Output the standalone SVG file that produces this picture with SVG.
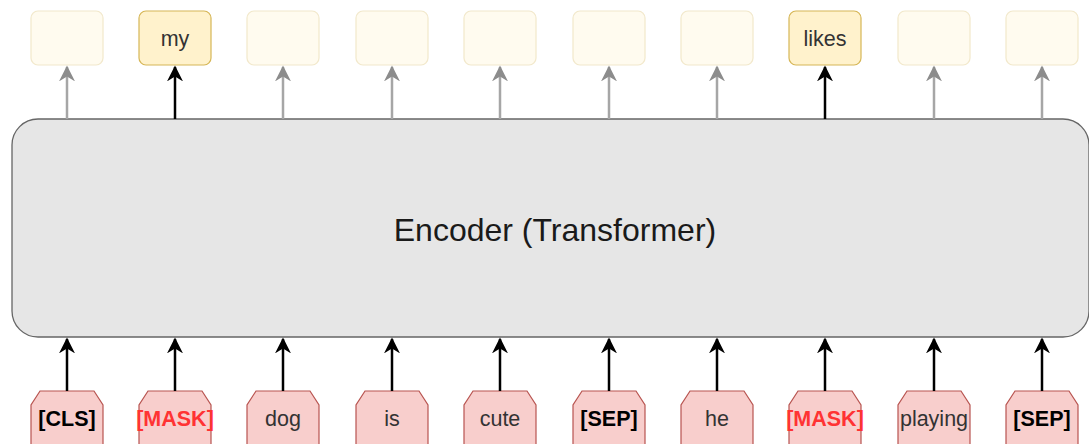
<svg xmlns="http://www.w3.org/2000/svg" width="1089" height="444" viewBox="0 0 1089 444">
  <style>
    .out { fill: #fff2cc; stroke: #d6b656; stroke-width: 1.2; }
    .faint { opacity: 0.3; }
    .tok { fill: #f8cecc; stroke: #b85450; stroke-width: 1.2; }
    .lbl { font-family: "Liberation Sans", Arial, sans-serif; font-size: 21.5px; fill: #333; text-anchor: middle; }
    .b { font-weight: bold; fill: #000; }
    .m { font-weight: bold; fill: #ff3333; }
    .up { stroke: #000; stroke-width: 2.5; fill: none; marker-end: url(#hb); }
    .upg { stroke: #a6a6a6; stroke-width: 2.5; fill: none; marker-end: url(#hg); }
  </style>
  <defs>
    <marker id="hb" viewBox="0 0 10 10" refX="9" refY="5" markerWidth="6.4" markerHeight="6.4" orient="auto" markerUnits="strokeWidth">
      <path d="M0,0 L10,5 L0,10 L3,5 Z" fill="#000"/>
    </marker>
    <marker id="hg" viewBox="0 0 10 10" refX="9" refY="5" markerWidth="6.4" markerHeight="6.4" orient="auto" markerUnits="strokeWidth">
      <path d="M0,0 L10,5 L0,10 L3,5 Z" fill="#8c8c8c"/>
    </marker>
    <path id="hex" d="M-27,0 L27,0 L36,14 L36,60 L-36,60 L-36,14 Z"/>
  </defs>

  <!-- encoder block -->
  <g id="encoder">
    <rect x="12" y="119" width="1077" height="218" rx="26" ry="26" fill="#e6e6e6" stroke="#666" stroke-width="1.3"/>
    <text x="555" y="241" font-family="Liberation Sans, Arial, sans-serif" font-size="32" fill="#1a1a1a" text-anchor="middle">Encoder (Transformer)</text>
  </g>

  <!-- output slots -->
  <g id="out0" class="faint"><rect class="out" x="31" y="11" width="72" height="54" rx="7"/></g>
  <g id="out1"><rect class="out" x="139" y="11" width="72" height="54" rx="7"/><text class="lbl" x="175" y="46">my</text></g>
  <g id="out2" class="faint"><rect class="out" x="247" y="11" width="72" height="54" rx="7"/></g>
  <g id="out3" class="faint"><rect class="out" x="356" y="11" width="72" height="54" rx="7"/></g>
  <g id="out4" class="faint"><rect class="out" x="464" y="11" width="72" height="54" rx="7"/></g>
  <g id="out5" class="faint"><rect class="out" x="573" y="11" width="72" height="54" rx="7"/></g>
  <g id="out6" class="faint"><rect class="out" x="681" y="11" width="72" height="54" rx="7"/></g>
  <g id="out7"><rect class="out" x="789" y="11" width="72" height="54" rx="7"/><text class="lbl" x="825" y="46">likes</text></g>
  <g id="out8" class="faint"><rect class="out" x="898" y="11" width="72" height="54" rx="7"/></g>
  <g id="out9" class="faint"><rect class="out" x="1006" y="11" width="72" height="54" rx="7"/></g>

  <!-- input tokens -->
  <g id="tok0"><use href="#hex" class="tok" x="67" y="391"/><text class="lbl b" x="67" y="426">[CLS]</text></g>
  <g id="tok1"><use href="#hex" class="tok" x="175" y="391"/><text class="lbl m" x="175" y="426">[MASK]</text></g>
  <g id="tok2"><use href="#hex" class="tok" x="283" y="391"/><text class="lbl" x="283" y="426">dog</text></g>
  <g id="tok3"><use href="#hex" class="tok" x="392" y="391"/><text class="lbl" x="392" y="426">is</text></g>
  <g id="tok4"><use href="#hex" class="tok" x="500" y="391"/><text class="lbl" x="500" y="426">cute</text></g>
  <g id="tok5"><use href="#hex" class="tok" x="609" y="391"/><text class="lbl b" x="609" y="426">[SEP]</text></g>
  <g id="tok6"><use href="#hex" class="tok" x="717" y="391"/><text class="lbl" x="717" y="426">he</text></g>
  <g id="tok7"><use href="#hex" class="tok" x="825" y="391"/><text class="lbl m" x="825" y="426">[MASK]</text></g>
  <g id="tok8"><use href="#hex" class="tok" x="934" y="391"/><text class="lbl" x="934" y="426">playing</text></g>
  <g id="tok9"><use href="#hex" class="tok" x="1042" y="391"/><text class="lbl b" x="1042" y="426">[SEP]</text></g>

  <!-- connectors -->
  <g id="connectors">
    <path class="up" d="M67,391 V339"/>
    <path class="up" d="M175,391 V339"/>
    <path class="up" d="M283,391 V339"/>
    <path class="up" d="M392,391 V339"/>
    <path class="up" d="M500,391 V339"/>
    <path class="up" d="M609,391 V339"/>
    <path class="up" d="M717,391 V339"/>
    <path class="up" d="M825,391 V339"/>
    <path class="up" d="M934,391 V339"/>
    <path class="up" d="M1042,391 V339"/>

    <path class="upg" d="M67,119 V67"/>
    <path class="up" d="M175,119 V67"/>
    <path class="upg" d="M283,119 V67"/>
    <path class="upg" d="M392,119 V67"/>
    <path class="upg" d="M500,119 V67"/>
    <path class="upg" d="M609,119 V67"/>
    <path class="upg" d="M717,119 V67"/>
    <path class="up" d="M825,119 V67"/>
    <path class="upg" d="M934,119 V67"/>
    <path class="upg" d="M1042,119 V67"/>
  </g>
</svg>
